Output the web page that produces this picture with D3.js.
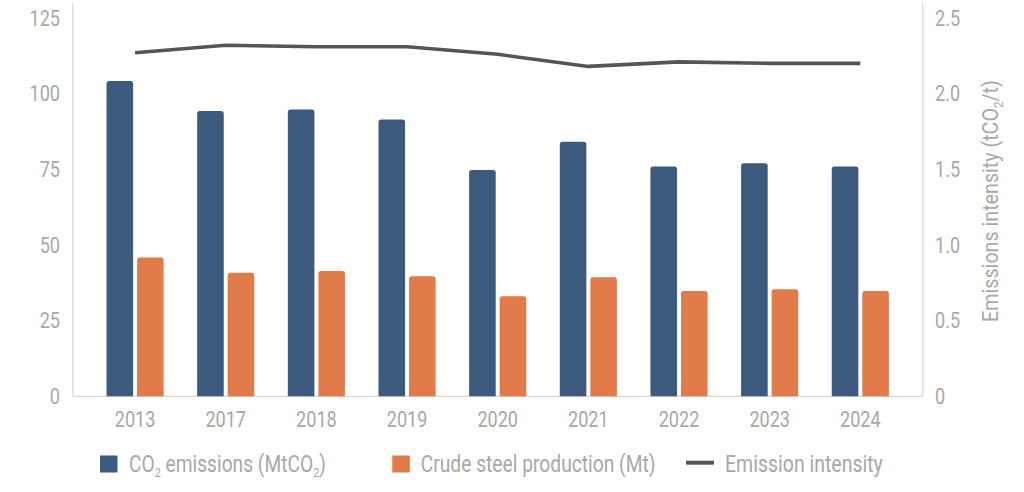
<!DOCTYPE html>
<html>
<head>
<meta charset="utf-8">
<script src="https://cdn.jsdelivr.net/npm/d3@7"></script>
<style>
  html, body { margin: 0; padding: 0; background: #ffffff; }
  svg { display: block; }
  text { font-family: "Roboto", "Liberation Sans", sans-serif; fill: #a8a8a8; }
</style>
</head>
<body>
<div id="chart"></div>
<script>
const years = ['2013', '2017', '2018', '2019', '2020', '2021', '2022', '2023', '2024'];
const co2Emissions = [104.2, 94.3, 94.8, 91.5, 74.8, 84.1, 75.9, 77.0, 75.9];
const steelProduction = [45.9, 40.8, 41.4, 39.7, 33.1, 39.3, 34.8, 35.4, 34.8];
const emissionIntensity = [2.27, 2.32, 2.31, 2.31, 2.26, 2.18, 2.21, 2.20, 2.20];
const leftTicks = [0, 25, 50, 75, 100, 125];
const rightTicks = [0, 0.5, 1.0, 1.5, 2.0, 2.5];

const COLORS = {
  co2: '#3b5a7e',
  steel: '#e27b4a',
  line: '#555555',
  axis: '#d9d9d9',
  text: '#a8a8a8',
};

const width = 1024;
const height = 492;
const plot = { left: 72.7, right: 922.7, top: 18, bottom: 396.3 };

// the source font is a condensed face, squeeze Roboto to match
function condense(selection, factor) {
  selection.each(function () {
    const w = this.getComputedTextLength();
    d3.select(this).attr('textLength', w * factor).attr('lengthAdjust', 'spacingAndGlyphs');
  });
}

// text with subscript parts, squeezed horizontally to a target width
function subText(parent, parts, fontSize, targetWidth, anchor) {
  const g = parent.append('g');
  const t = g.append('text')
    .attr('text-anchor', anchor || 'start')
    .style('font-size', `${fontSize}px`);
  let sub = false;
  parts.forEach(([txt, isSub]) => {
    const span = t.append('tspan').text(txt);
    if (isSub) span.style('font-size', `${Math.round(fontSize * 0.58)}px`);
    if (isSub && !sub) { span.attr('dy', fontSize * 0.22); sub = true; }
    else if (!isSub && sub) { span.attr('dy', -fontSize * 0.22); sub = false; }
  });
  const natural = t.node().getBBox().width;
  t.attr('transform', `scale(${targetWidth / natural},1)`);
  return g;
}

const svg = d3.select('#chart')
  .append('svg')
  .attr('width', width)
  .attr('height', height)
  .attr('viewBox', `0 0 ${width} ${height}`);

const x = d3.scaleBand()
  .domain(years)
  .range([plot.left, plot.right])
  .paddingInner(0.37)
  .paddingOuter(0.373);

const xSeries = d3.scaleBand()
  .domain(['co2', 'steel'])
  .range([0, x.bandwidth()])
  .paddingInner(0.13);

const y = d3.scaleLinear().domain([0, 125]).range([plot.bottom, plot.top]);
const y2 = d3.scaleLinear().domain([0, 2.5]).range([plot.bottom, plot.top]);

// frame lines
svg.append('g')
  .attr('stroke', COLORS.axis)
  .attr('stroke-width', 1.2)
  .selectAll('line')
  .data([
    [plot.left, 3, plot.left, plot.bottom],
    [plot.right, 3, plot.right, plot.bottom],
    [plot.left, plot.bottom, plot.right, plot.bottom],
  ])
  .join('line')
  .attr('x1', (d) => d[0])
  .attr('y1', (d) => d[1])
  .attr('x2', (d) => d[2])
  .attr('y2', (d) => d[3]);

// bars with rounded tops
function topRounded(x0, y0, w, h, r) {
  const rr = Math.min(r, h, w / 2);
  return `M${x0},${y0 + h}V${y0 + rr}Q${x0},${y0} ${x0 + rr},${y0}` +
    `H${x0 + w - rr}Q${x0 + w},${y0} ${x0 + w},${y0 + rr}V${y0 + h}Z`;
}

const rows = years.map((yr, i) => ({
  year: yr,
  values: [
    { key: 'co2', value: co2Emissions[i] },
    { key: 'steel', value: steelProduction[i] },
  ],
}));

svg.append('g')
  .selectAll('g')
  .data(rows)
  .join('g')
  .attr('transform', (d) => `translate(${x(d.year)},0)`)
  .selectAll('path')
  .data((d) => d.values)
  .join('path')
  .attr('fill', (d) => COLORS[d.key])
  .attr('d', (d) => topRounded(xSeries(d.key), y(d.value), xSeries.bandwidth(), y(0) - y(d.value), 2.6));

// intensity line
const line = d3.line()
  .x((d, i) => x(years[i]) + x.bandwidth() / 2)
  .y((d) => y2(d));

svg.append('path')
  .datum(emissionIntensity)
  .attr('fill', 'none')
  .attr('stroke', COLORS.line)
  .attr('stroke-width', 3.6)
  .attr('stroke-linejoin', 'round')
  .attr('d', line);

// axes
const leftAxis = svg.append('g')
  .attr('transform', `translate(${plot.left},0)`)
  .call(d3.axisLeft(y).tickValues(leftTicks).tickSize(0).tickPadding(12.7));

const rightAxis = svg.append('g')
  .attr('transform', `translate(${plot.right},0)`)
  .call(d3.axisRight(y2).tickValues(rightTicks).tickSize(0).tickPadding(12.3)
    .tickFormat((d) => (d === 0 ? '0' : d3.format('.1f')(d))));

const bottomAxis = svg.append('g')
  .attr('transform', `translate(0,${plot.bottom})`)
  .call(d3.axisBottom(x).tickSize(0).tickPadding(15));

[leftAxis, rightAxis, bottomAxis].forEach((g) => {
  g.select('.domain').remove();
  g.selectAll('text')
    .attr('fill', COLORS.text)
    .style('font-family', '"Roboto", "Liberation Sans", sans-serif')
    .style('font-size', '22px')
    .call(condense, 0.82);
});

// right axis title
subText(svg, [['Emissions intensity (tCO', 0], ['2', 1], ['/t)', 0]], 22, 242, 'middle')
  .attr('transform', 'translate(998,201) rotate(-90)');

// legend
const legend = svg.append('g');
const legendItems = [
  { type: 'rect', color: COLORS.co2, x: 100, textX: 129, textW: 197, parts: [['CO', 0], ['2', 1], [' emissions (MtCO', 0], ['2', 1], [')', 0]] },
  { type: 'rect', color: COLORS.steel, x: 392.3, textX: 420.7, textW: 235, parts: [['Crude steel production (Mt)', 0]] },
  { type: 'line', color: COLORS.line, x: 686, textX: 725, textW: 158, parts: [['Emission intensity', 0]] },
];
const legendY = 464;

legendItems.forEach((item) => {
  if (item.type === 'rect') {
    legend.append('rect')
      .attr('x', item.x)
      .attr('y', legendY - 8.5)
      .attr('width', 17.5)
      .attr('height', 17)
      .attr('fill', item.color);
  } else {
    legend.append('line')
      .attr('x1', item.x)
      .attr('x2', item.x + 28)
      .attr('y1', legendY - 1.3)
      .attr('y2', legendY - 1.3)
      .attr('stroke', item.color)
      .attr('stroke-width', 4);
  }
  subText(legend, item.parts, 23, item.textW)
    .attr('transform', `translate(${item.textX},${legendY + 8})`);
});
</script>
</body>
</html>
